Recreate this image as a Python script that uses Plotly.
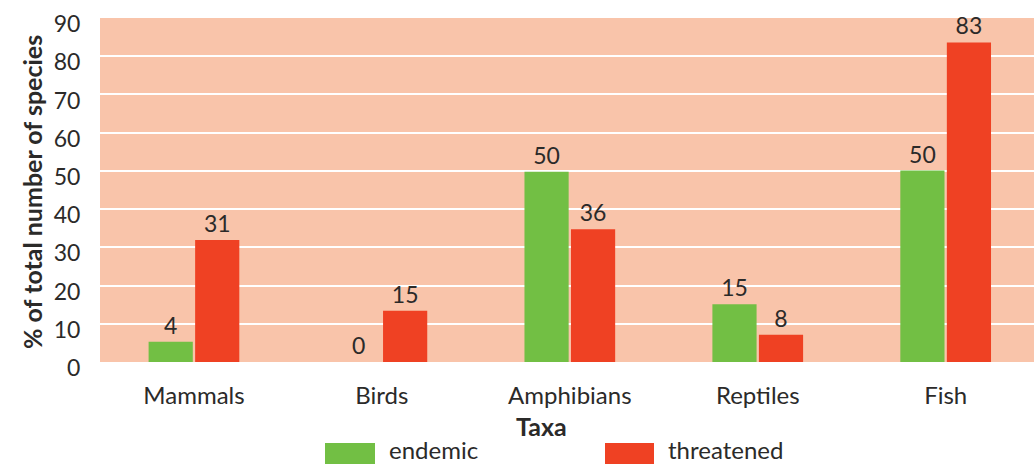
import plotly.graph_objects as go

categories = ["Mammals", "Birds", "Amphibians", "Reptiles", "Fish"]
series_names = ["endemic", "threatened"]
endemic_heights = [5.3, 0, 49.8, 15.1, 50.1]
threatened_heights = [31.9, 13.4, 34.7, 7.1, 83.6]
endemic_labels = ["4", "0", "50", "15", "50"]
threatened_labels = ["31", "15", "36", "8", "83"]
y_ticks = [0, 10, 20, 30, 40, 50, 60, 70, 80, 90]

GREEN = "#72BF44"
RED = "#EF4123"
BG = "#F9C4AA"
TXT = "#2B2A29"
FONT = "Lato"
FS = 23

W, H = 1034, 464
L, R, T, B = 100, 0, 18, 102
pw, ph = W - L - R, H - T - B

def px_x(px):
    return (px - L) / pw

def px_y(py):
    return (H - B - py) / ph

fig = go.Figure()
fig.add_trace(go.Bar(x=categories, y=endemic_heights, name=series_names[0],
                     marker=dict(color=GREEN, line=dict(width=0)),
                     text=endemic_labels, textposition="outside",
                     textfont=dict(size=FS, color=TXT, family=FONT),
                     cliponaxis=False, showlegend=False, hoverinfo="skip"))
fig.add_trace(go.Bar(x=categories, y=threatened_heights, name=series_names[1],
                     marker=dict(color=RED, line=dict(width=0)),
                     text=threatened_labels, textposition="outside",
                     textfont=dict(size=FS, color=TXT, family=FONT),
                     cliponaxis=False, showlegend=False, hoverinfo="skip"))

fig.update_layout(
    width=W, height=H,
    margin=dict(l=L, r=R, t=T, b=B, pad=0, autoexpand=False),
    paper_bgcolor="white", plot_bgcolor=BG,
    barmode="group", bargap=0.505, bargroupgap=0.05,
    uniformtext=dict(minsize=FS, mode="show"),
    font=dict(family=FONT, size=FS, color=TXT),
    xaxis=dict(range=[-0.5, 4.47], showgrid=False, zeroline=False, showline=False,
               automargin=False,
               ticks="outside", ticklen=12, tickcolor="rgba(0,0,0,0)",
               tickfont=dict(size=24, color=TXT, family=FONT)),
    yaxis=dict(range=[0, 90], tickvals=y_ticks, showgrid=True, gridcolor="white",
               gridwidth=1.5, zeroline=False, showline=False, automargin=False,
               ticks="outside", ticklen=14, tickcolor="rgba(0,0,0,0)",
               ticklabelshift=6, ticklabeloverflow="allow",
               tickfont=dict(size=FS, color=TXT, family=FONT)),
)

# axis titles
fig.add_annotation(text="<b>Taxa</b>", xref="paper", yref="paper",
                   x=px_x(541), y=px_y(426), xanchor="center", yanchor="middle",
                   showarrow=False,
                   font=dict(size=25, color=TXT, family=FONT))
fig.add_annotation(text="<b>% of total number of species</b>", xref="paper", yref="paper",
                   x=px_x(32), y=px_y(192), xanchor="center", yanchor="middle",
                   showarrow=False, textangle=-90,
                   font=dict(size=25, color=TXT, family=FONT))

# legend
legend_items = [(series_names[0], GREEN, 325, 375, 388),
                (series_names[1], RED, 605, 654, 667)]
for name, col, x0, x1, tx in legend_items:
    fig.add_shape(type="rect", xref="paper", yref="paper",
                  x0=px_x(x0), x1=px_x(x1), y0=px_y(443), y1=px_y(470),
                  fillcolor=col, line=dict(width=0))
    fig.add_annotation(text=name, xref="paper", yref="paper",
                       x=px_x(tx), y=px_y(449), xanchor="left", yanchor="middle",
                       showarrow=False, borderpad=0,
                       font=dict(size=24, color=TXT, family=FONT))

fig.write_html("out.html", config={"displayModeBar": False},
               post_script="document.body.style.margin='0';document.body.style.overflow='hidden';")
